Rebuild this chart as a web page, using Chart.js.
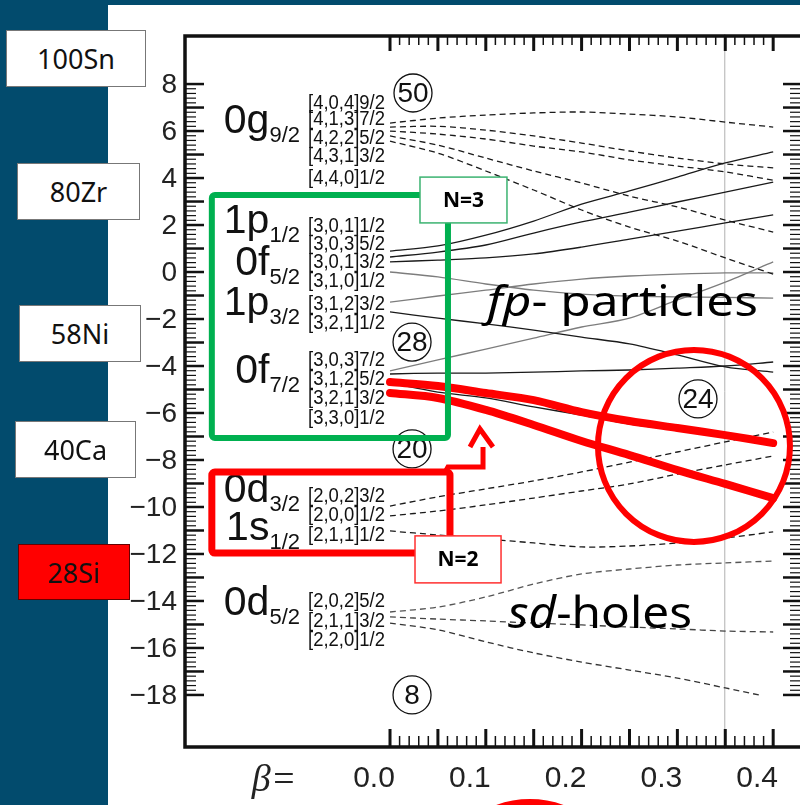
<!DOCTYPE html>
<html>
<head>
<meta charset="utf-8">
<script src="https://cdn.jsdelivr.net/npm/chart.js"></script>
<style>
  body { margin: 0; width: 800px; height: 805px; overflow: hidden; background: #024b6d; position: relative; }
  #paper { position: absolute; left: 108px; top: 5px; width: 692px; height: 800px; background: #fff; }
  #chart { position: absolute; left: 0; top: 0; }
  .nuc { position: absolute; box-sizing: border-box; background: #fff; border: 1px solid #777;
         font: 27px "Comic Sans MS", "Noto Sans", sans-serif; color: #111;
         display: flex; align-items: center; justify-content: center; }
</style>
</head>
<body>
<div id="paper"></div>
<canvas id="chart" width="800" height="805"></canvas>
<div class="nuc" style="left:6px;top:30px;width:140px;height:57px">100Sn</div>
<div class="nuc" style="left:17px;top:163px;width:123px;height:57px">80Zr</div>
<div class="nuc" style="left:19px;top:305px;width:122px;height:57px">58Ni</div>
<div class="nuc" style="left:15px;top:421px;width:121px;height:57px">40Ca</div>
<div class="nuc" style="left:18px;top:544px;width:112px;height:56px;background:#ff0000;border-color:#600">28Si</div>
<script>
// deformation grid (beta) and single-particle energies (MeV)
const beta = [0, 0.05, 0.10, 0.15, 0.20, 0.25, 0.30, 0.35, 0.40];
const betaShort = [0, 0.05, 0.10, 0.15, 0.20, 0.25, 0.30, 0.35, 0.385];

// N=4, 0g9/2 (dashed)
const g92_a = [6.34, 6.55, 6.68, 6.77, 6.81, 6.72, 6.60, 6.38, 6.17];
const g92_b = [6.17, 6.20, 6.04, 5.79, 5.49, 5.15, 4.85, 4.60, 4.43];
const g92_c = [6.00, 5.87, 5.66, 5.36, 5.11, 4.77, 4.51, 4.26, 3.91];
const g92_d = [5.79, 5.40, 4.85, 4.30, 3.79, 3.23, 2.77, 2.21, 1.70];
const g92_e = [5.57, 5.06, 4.30, 3.49, 2.64, 1.91, 1.32, 0.60, -0.09];

// N=3, fp shell (solid)
const fp_a = [0.89, 1.11, 1.57, 2.17, 2.89, 3.45, 4.04, 4.64, 5.11];
const fp_b = [0.64, 0.85, 1.15, 1.66, 2.13, 2.55, 2.98, 3.40, 3.83];
const fp_c = [0.43, 0.51, 0.60, 0.77, 1.06, 1.40, 1.74, 2.09, 2.43];
const fp_d = [0.00, -0.21, -0.51, -0.77, -0.94, -1.02, -1.06, -1.08, -1.11];
const fp_e = [-1.28, -1.02, -0.77, -0.51, -0.30, -0.17, -0.09, -0.04, -0.04];
const fp_f = [-1.70, -1.96, -2.21, -2.47, -2.77, -3.06, -3.53, -4.04, -4.26];
const fp_g = [-4.21, -3.74, -3.28, -2.81, -2.34, -1.96, -1.19, -0.43, 0.43];
const fp_h = [-4.34, -4.30, -4.30, -4.26, -4.21, -4.17, -4.09, -4.00, -3.83];
const fp_i = [-4.72, -5.11, -5.36, -5.74, -6.09, -6.47, -6.72, -6.98, -7.23];
const fp_j = [-5.15, -5.36, -5.87, -6.51, -7.19, -7.79, -8.43, -9.02, -9.62];

// hand-drawn red highlights over the two down-sloping 0f7/2 orbits
const red_a = [-4.68, -4.85, -5.15, -5.45, -5.96, -6.34, -6.64, -6.94, -7.28];
const red_b = [-5.15, -5.36, -5.87, -6.51, -7.19, -7.79, -8.43, -9.02, -9.62];

// N=2, sd shell (dashed)
const sd_a = [-9.96, -9.57, -9.23, -8.89, -8.51, -8.09, -7.66, -7.23, -6.81];
const sd_b = [-10.38, -10.17, -9.91, -9.62, -9.32, -9.02, -8.60, -8.21, -7.83];
const sd_c = [-11.02, -11.19, -11.36, -11.53, -11.70, -11.66, -11.53, -11.32, -11.06];
const sd_d = [-14.47, -14.26, -13.83, -13.28, -12.85, -12.64, -12.47, -12.38, -12.30];
const sd_e = [-14.68, -14.77, -14.85, -14.94, -15.02, -15.11, -15.19, -15.28, -15.32];
const sd_f = [-14.94, -15.23, -15.74, -16.21, -16.60, -16.94, -17.28, -17.70, -18.00];

// axes
const yTickLabels = [8, 6, 4, 2, 0, -2, -4, -6, -8, -10, -12, -14, -16, -18];
const xTickLabels = [0.0, 0.1, 0.2, 0.3, 0.4];

// orbit labels
const shellNames = [['0g', '9/2', 5.91], ['1p', '1/2', 1.66], ['0f', '5/2', -0.13], ['1p', '3/2', -1.83],
                    ['0f', '7/2', -4.72], ['0d', '3/2', -9.79], ['1s', '1/2', -11.40], ['0d', '5/2', -14.60]];
const nilssonText = ['[4,0,4]9/2', '[4,1,3]7/2', '[4,2,2]5/2', '[4,3,1]3/2', '[4,4,0]1/2',
                     '[3,0,1]1/2', '[3,0,3]5/2', '[3,0,1]3/2', '[3,1,0]1/2', '[3,1,2]3/2', '[3,2,1]1/2',
                     '[3,0,3]7/2', '[3,1,2]5/2', '[3,2,1]3/2', '[3,3,0]1/2',
                     '[2,0,2]3/2', '[2,0,0]1/2', '[2,1,1]1/2', '[2,0,2]5/2', '[2,1,1]3/2', '[2,2,0]1/2'];
const nilssonE = [7.23, 6.55, 5.74, 4.94, 4.04,
                  2.00, 1.23, 0.43, -0.34, -1.32, -2.13,
                  -3.74, -4.55, -5.36, -6.17,
                  -9.53, -10.34, -11.15, -13.96, -14.81, -15.62];
const magicNumbers = [['50', 0.024, 7.62], ['28', 0.023, -2.98], ['20', 0.023, -7.53], ['8', 0.023, -18.0], ['24', 0.3215, -5.40]];

const SANS = '"Liberation Sans", Arial, sans-serif';
const HAND = '"Comic Sans MS", "Noto Sans", sans-serif';
const BLACK = '#1a1a1a', GREY = '#7d7d7d';

function line(e, color, width, dash, xs) {
  const b = xs || beta;
  return {
    data: e.map((v, i) => ({ x: b[i], y: v })),
    borderColor: color, borderWidth: width, borderDash: dash || [],
    borderCapStyle: width > 3 ? 'round' : 'butt',
    pointRadius: 0, tension: 0.3, fill: false
  };
}

const datasets = [
  line(red_a, '#ff0000', 8), line(red_b, '#ff0000', 8),
  line(g92_a, BLACK, 1.3, [6, 4]), line(g92_b, BLACK, 1.3, [6, 4]), line(g92_c, BLACK, 1.3, [6, 4]),
  line(g92_d, BLACK, 1.3, [6, 4]), line(g92_e, BLACK, 1.3, [6, 4]),
  line(fp_a, BLACK, 1.3), line(fp_b, BLACK, 1.3), line(fp_c, BLACK, 1.3),
  line(fp_d, GREY, 1.3), line(fp_e, GREY, 1.3), line(fp_f, BLACK, 1.3),
  line(fp_g, GREY, 1.3), line(fp_h, BLACK, 1.3), line(fp_i, BLACK, 1.3), line(fp_j, BLACK, 1.3),
  line(sd_a, BLACK, 1.3, [6, 4]), line(sd_b, BLACK, 1.3, [6, 4]), line(sd_c, BLACK, 1.3, [6, 4]),
  line(sd_d, '#555', 1.3, [6, 4]), line(sd_e, '#444', 1.3, [6, 4]), line(sd_f, '#333', 1.3, [6, 4], betaShort)
];

function fitText(ctx, parts, x, y, width, size, face) {
  const f = face || HAND;
  let w = 0;
  parts.forEach(p => { ctx.font = p[1] + ' ' + size + 'px ' + f; w += ctx.measureText(p[0]).width; });
  ctx.save();
  ctx.translate(x, y);
  ctx.scale(width / w, 1);
  let cx = 0;
  parts.forEach(p => {
    ctx.font = p[1] + ' ' + size + 'px ' + f;
    ctx.fillText(p[0], cx, 0);
    cx += ctx.measureText(p[0]).width;
  });
  ctx.restore();
}

const frame = {
  id: 'frame',
  beforeDatasetsDraw(chart) {
    const ctx = chart.ctx, a = chart.chartArea;
    const px = v => chart.scales.x.getPixelForValue(v);
    const py = v => chart.scales.y.getPixelForValue(v);
    ctx.save();
    // thin reference line at beta = 0.35
    ctx.strokeStyle = '#b0b0b0'; ctx.lineWidth = 1;
    ctx.beginPath(); ctx.moveTo(px(0.35) - 0.5, a.top); ctx.lineTo(px(0.35) - 0.5, a.bottom); ctx.stroke();
    ctx.strokeStyle = '#111';
    // frame
    ctx.lineWidth = 3.5;
    ctx.beginPath();
    ctx.moveTo(a.right + 5, a.top + 2); ctx.lineTo(a.left + 2, a.top + 2);
    ctx.lineTo(a.left + 2, a.bottom - 2); ctx.lineTo(a.right + 5, a.bottom - 2);
    ctx.stroke();
    // beta ticks
    for (let k = 0; k <= 40; k++) {
      const x = px(k / 100), major = k % 5 === 0;
      ctx.lineWidth = major ? 3 : 1.5;
      ctx.beginPath(); ctx.moveTo(x, a.top + 2); ctx.lineTo(x, a.top + (major ? 17 : 11)); ctx.stroke();
      ctx.beginPath(); ctx.moveTo(x, a.bottom - 2); ctx.lineTo(x, a.bottom - (major ? 20 : 13)); ctx.stroke();
    }
    // energy ticks
    for (let k = -90; k <= 40; k++) {
      const y = py(k / 5), major = k % 5 === 0;
      ctx.lineWidth = major ? 2.5 : 1.2;
      ctx.beginPath(); ctx.moveTo(a.left + 2, y); ctx.lineTo(a.left + (major ? 21 : 13), y); ctx.stroke();
      ctx.beginPath(); ctx.moveTo(a.right, y); ctx.lineTo(a.right - (major ? 17 : 10), y); ctx.stroke();
    }
    // tick labels
    ctx.fillStyle = '#222';
    ctx.font = '28px ' + SANS;
    ctx.textAlign = 'right'; ctx.textBaseline = 'middle';
    yTickLabels.forEach(v => ctx.fillText(v < 0 ? '\u2212' + (-v) : String(v), a.left - 6, py(v) + 1));
    ctx.textAlign = 'center';
    ctx.font = '30px ' + SANS;
    xTickLabels.forEach(v => ctx.fillText(v.toFixed(1), px(v) - 16, 779));
    ctx.font = 'italic 38px "Liberation Serif", "Times New Roman", serif';
    ctx.fillText('\u03b2=', 274, 781);
    ctx.restore();
  },
  afterDatasetsDraw(chart) {
    const ctx = chart.ctx;
    const px = v => chart.scales.x.getPixelForValue(v);
    const py = v => chart.scales.y.getPixelForValue(v);
    const x0 = px(0);
    ctx.save();
    ctx.fillStyle = '#111'; ctx.strokeStyle = '#111';

    // spherical shell names with subscripts
    ctx.textBaseline = 'alphabetic';
    shellNames.forEach(([main, sub, e]) => {
      const y = py(e);
      ctx.font = '22px ' + SANS;
      const sw = ctx.measureText(sub).width;
      ctx.textAlign = 'left';
      ctx.fillText(sub, x0 - 90 - sw, y + 9);
      ctx.font = '41px ' + SANS;
      ctx.textAlign = 'right';
      ctx.fillText(main, x0 - 90 - sw, y);
    });
    // asymptotic quantum numbers, slightly condensed
    ctx.textAlign = 'left'; ctx.textBaseline = 'middle';
    nilssonText.forEach((t, i) => fitText(ctx, [[t, '']], x0 - 82, py(nilssonE[i]) + 1, 77, 20, SANS));

    // circled magic numbers
    magicNumbers.forEach(([t, b, e]) => {
      const x = px(b), y = py(e);
      ctx.lineWidth = 1.3;
      ctx.beginPath(); ctx.arc(x, y, 19, 0, 2 * Math.PI); ctx.stroke();
      ctx.font = '28px ' + SANS; ctx.textAlign = 'center';
      ctx.fillText(t, x, y + 1);
    });

    // hand-written region labels
    ctx.textAlign = 'left'; ctx.textBaseline = 'alphabetic'; ctx.fillStyle = '#000';
    fitText(ctx, [['fp', 'italic'], ['- particles', '']], 487, 316, 271, 42);
    fitText(ctx, [['sd', 'italic'], ['-holes', '']], 508, 628, 184, 44);

    // N=3 box
    ctx.strokeStyle = '#00b050'; ctx.lineWidth = 6; ctx.lineJoin = 'round';
    ctx.beginPath(); ctx.roundRect(px(-0.186), py(3.28), px(0.0605) - px(-0.186), py(-7.06) - py(3.28), 3); ctx.stroke();
    // N=2 box
    ctx.strokeStyle = '#ff0000'; ctx.lineWidth = 7;
    ctx.beginPath(); ctx.roundRect(px(-0.186), py(-8.51), px(0.0626) - px(-0.186), py(-11.96) - py(-8.51), 3); ctx.stroke();
    // arrow from the N=2 box to the highlighted orbits
    ctx.lineWidth = 5; ctx.lineJoin = 'miter';
    ctx.beginPath(); ctx.moveTo(px(0.0585), py(-8.45)); ctx.lineTo(px(0.0605), py(-8.30));
    ctx.lineTo(px(0.0971), py(-8.30)); ctx.lineTo(px(0.0971), py(-7.45)); ctx.stroke();
    ctx.beginPath(); ctx.moveTo(px(0.0835), py(-7.45)); ctx.lineTo(px(0.0939), py(-6.68));
    ctx.lineTo(px(0.1075), py(-7.45)); ctx.stroke();

    // labels N=3 / N=2
    const tag = (b1, e1, b2, e2, col, txt) => {
      const x = px(b1), y = py(e1), w = px(b2) - x, h = py(e2) - y;
      ctx.fillStyle = '#fff'; ctx.fillRect(x, y, w, h);
      ctx.strokeStyle = col; ctx.lineWidth = 1.5; ctx.strokeRect(x, y, w, h);
      ctx.fillStyle = '#000'; ctx.font = 'bold 21px ' + HAND;
      ctx.textAlign = 'center'; ctx.textBaseline = 'middle';
      ctx.fillText(txt, x + w / 2, y + h / 2 + 1);
    };
    tag(0.0313, 4.04, 0.1221, 2.09, '#3cb371', 'N=3');
    tag(0.0261, -11.23, 0.1159, -13.23, '#ff3030', 'N=2');

    // red circles
    ctx.strokeStyle = '#ff0000'; ctx.lineWidth = 6;
    ctx.beginPath(); ctx.arc(px(0.3173), py(-7.40), 96, 0, 2 * Math.PI); ctx.stroke();
    ctx.beginPath(); ctx.arc(px(0.146), py(-26.6), 95, 0, 2 * Math.PI); ctx.stroke();
    ctx.restore();
  }
};

new Chart(document.getElementById('chart'), {
  type: 'line',
  data: { datasets },
  options: {
    responsive: false,
    animation: false,
    layout: { padding: { left: 183, top: 34, right: 0, bottom: 56 } },
    scales: {
      x: { type: 'linear', min: -0.2161, max: 0.428, display: false },
      y: { type: 'linear', min: -20.30, max: 10.13, display: false }
    },
    plugins: { legend: { display: false }, tooltip: { enabled: false } }
  },
  plugins: [frame]
});
</script>
</body>
</html>
